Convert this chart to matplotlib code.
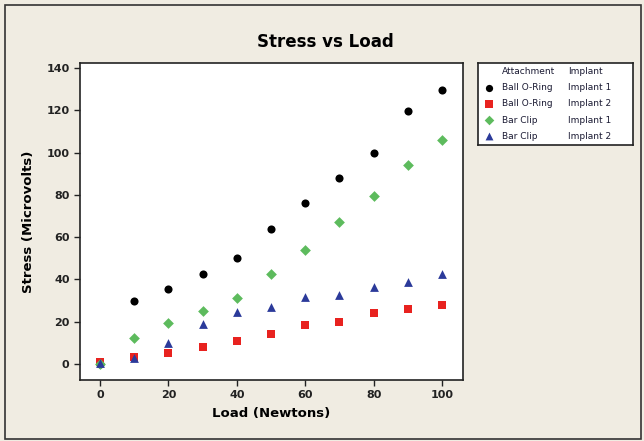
import matplotlib
matplotlib.use("Agg")
import matplotlib.pyplot as plt
from matplotlib.patches import Rectangle

loads = [0, 10, 20, 30, 40, 50, 60, 70, 80, 90, 100]
ball_impl1 = [0, 30, 35.5, 42.4, 50, 63.7, 76.2, 88, 100, 119.7, 129.6]
ball_impl2 = [0.8, 3.2, 5.4, 8.2, 10.9, 14, 18.3, 19.9, 24, 26.2, 27.8]
bar_impl1 = [0, 12.1, 19.5, 25.2, 31, 42.4, 54, 67, 79.6, 94, 105.8]
bar_impl2 = [0.3, 2.7, 9.8, 19, 24.7, 27, 31.8, 32.6, 36.6, 38.6, 42.6]

attachments = ["Ball O-Ring", "Ball O-Ring", "Bar Clip", "Bar Clip"]
implants = ["Implant 1", "Implant 2", "Implant 1", "Implant 2"]
series = [ball_impl1, ball_impl2, bar_impl1, bar_impl2]
colors = ["#000000", "#E8221F", "#5DBB5D", "#2B3A9A"]
markers = ["o", "s", "D", "^"]
msizes = [34, 34, 30, 40]

xticks = [0, 20, 40, 60, 80, 100]
yticks = [0, 20, 40, 60, 80, 100, 120, 140]

W, H = 644, 441
bg = "#F0ECE2"
fig = plt.figure(figsize=(W / 100, H / 100), dpi=100, facecolor=bg)

def fx(px):
    return px / W

def fy(py):
    return 1 - py / H

# outer border
fig.add_artist(Rectangle((fx(5), fy(439)), fx(636), (434) / H, transform=fig.transFigure,
                         fill=False, edgecolor="#333333", linewidth=1.2))

ax = fig.add_axes([fx(80), fy(380), fx(463 - 80), (380 - 63) / H])
ax.set_facecolor("white")
for s, c, m, sz in zip(series, colors, markers, msizes):
    ax.scatter(loads, s, c=c, marker=m, s=sz, linewidths=0, zorder=3)

ax.set_xlim(-5.85, 106.1)
ax.set_ylim(-7.6, 142.4)
ax.set_xticks(xticks)
ax.set_yticks(yticks)
ax.tick_params(direction="out", length=4, width=1, labelsize=8, colors="#222222")
for lab in ax.get_xticklabels() + ax.get_yticklabels():
    lab.set_fontweight("bold")
for sp in ax.spines.values():
    sp.set_linewidth(1.2)
    sp.set_color("#222222")

ax.set_xlabel("Load (Newtons)", fontsize=9.5, fontweight="bold", labelpad=5)
ax.set_ylabel("Stress (Microvolts)", fontsize=9.5, fontweight="bold", labelpad=8)
fig.text(fx(325), fy(42), "Stress vs Load", ha="center", va="center",
         fontsize=12, fontweight="bold")

# legend table
lx0, ly0, lx1, ly1 = 478, 63, 633, 145
lax = fig.add_axes([fx(lx0), fy(ly1), fx(lx1 - lx0), (ly1 - ly0) / H])
lax.set_xlim(0, lx1 - lx0)
lax.set_ylim(ly1 - ly0, 0)
lax.set_xticks([])
lax.set_yticks([])
lax.set_facecolor("white")
for sp in lax.spines.values():
    sp.set_linewidth(1.2)
    sp.set_color("#222222")
tc = "#1a1a33"
lax.text(24, 9, "Attachment", fontsize=6.5, va="center", color=tc)
lax.text(90, 9, "Implant", fontsize=6.5, va="center", color=tc)
for i, (a, imp, c, m, sz) in enumerate(zip(attachments, implants, colors, markers, msizes)):
    yy = 25 + 16 * i
    lax.scatter([11], [yy], c=c, marker=m, s=sz * 0.8, linewidths=0)
    lax.text(24, yy, a, fontsize=6.5, va="center", color=tc)
    lax.text(90, yy, imp, fontsize=6.5, va="center", color=tc)

fig.savefig("out.png", dpi=100, facecolor=bg)
